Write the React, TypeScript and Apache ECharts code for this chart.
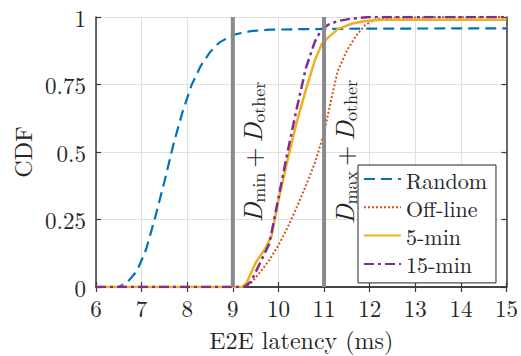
import React, { useEffect, useRef } from 'react';
import * as echarts from 'echarts';

const FONT = 'Latin Modern Roman';
const TXT = '#262626';

const randomX = [6, 6.5, 6.7, 6.9, 7.1, 7.3, 7.5, 7.7, 7.9, 8.1, 8.3, 8.5, 8.7, 9.0, 9.4, 9.8, 10.5, 12, 15];
const randomY = [0, 0, 0.02, 0.06, 0.14, 0.26, 0.39, 0.53, 0.65, 0.75, 0.82, 0.87, 0.905, 0.934, 0.948, 0.953, 0.955, 0.957, 0.958];

const offlineX = [6, 9.25, 9.4, 9.6, 9.8, 10.0, 10.2, 10.4, 10.6, 10.8, 11.0, 11.15, 11.3, 11.5, 11.7, 11.9, 12.1, 12.5, 15];
const offlineY = [0, 0, 0.015, 0.055, 0.1, 0.155, 0.22, 0.295, 0.375, 0.46, 0.57, 0.69, 0.8, 0.875, 0.93, 0.97, 0.99, 0.998, 1];

const min5X = [6, 9.2, 9.3, 9.5, 9.7, 9.85, 10.0, 10.2, 10.4, 10.6, 10.8, 10.95, 11.05, 11.3, 11.6, 11.9, 12.3, 15];
const min5Y = [0, 0, 0.015, 0.09, 0.14, 0.19, 0.32, 0.47, 0.61, 0.73, 0.84, 0.9, 0.918, 0.955, 0.975, 0.985, 0.99, 0.99];

const min15X = [6, 9.25, 9.4, 9.6, 9.8, 10.0, 10.2, 10.4, 10.6, 10.8, 10.95, 11.1, 11.3, 11.6, 12.0, 15];
const min15Y = [0, 0, 0.02, 0.09, 0.16, 0.33, 0.5, 0.66, 0.81, 0.91, 0.955, 0.972, 0.985, 0.994, 1, 1];

const seriesNames = ['Random', 'Off-line', '5-min', '15-min'];
const boundX = [9, 11];
const boundSubs = [['min', 'other'], ['max', 'other']];

const zip = (xs: number[], ys: number[]) => xs.map((x, i) => [x, ys[i]]);

export default function App() {
  const ref = useRef<HTMLDivElement>(null);
  useEffect(() => {
    if (!ref.current) return;
    const chart = echarts.init(ref.current, null, { renderer: 'svg' });
    const axisLine = { show: true, lineStyle: { color: '#3a3a3a', width: 1.5 } };
    const tick = { show: true, inside: true, length: 5, lineStyle: { color: '#3a3a3a', width: 1.2 } };
    const lineSeries = (name: string, xs: number[], ys: number[], color: string, type: any, width: number) => ({
      name,
      type: 'line',
      data: zip(xs, ys),
      showSymbol: false,
      symbol: 'none',
      lineStyle: { color, type, width, cap: 'butt' },
      itemStyle: { color },
      z: 3,
    });
    const option: any = {
      animation: false,
      backgroundColor: '#fff',
      grid: { left: 96, right: 13, top: 17, bottom: 66 },
      xAxis: [
        {
          type: 'value', min: 6, max: 15, interval: 1,
          name: 'E2E latency (ms)', nameLocation: 'middle', nameGap: 40,
          nameTextStyle: { fontFamily: FONT, fontSize: 24, color: TXT, lineHeight: 24 },
          axisLine, axisTick: tick,
          axisLabel: { fontFamily: FONT, fontSize: 23, color: TXT, margin: 11, lineHeight: 18 },
          splitLine: { show: true, lineStyle: { color: '#e0e0e0', width: 1 } },
        },
        {
          type: 'value', min: 6, max: 15, interval: 1, position: 'top',
          axisLine, axisTick: tick, axisLabel: { show: false }, splitLine: { show: false },
        },
      ],
      yAxis: [
        {
          type: 'value', min: 0, max: 1, interval: 0.25,
          name: 'CDF', nameLocation: 'middle', nameGap: 58,
          nameTextStyle: { fontFamily: FONT, fontSize: 24, color: TXT },
          axisLine, axisTick: tick,
          axisLabel: { fontFamily: FONT, fontSize: 23, color: TXT, margin: 10 },
          splitLine: { show: true, lineStyle: { color: '#e0e0e0', width: 1 } },
        },
        {
          type: 'value', min: 0, max: 1, interval: 0.25, position: 'right',
          axisLine, axisTick: tick, axisLabel: { show: false }, splitLine: { show: false },
        },
      ],
      legend: {
        data: seriesNames,
        orient: 'vertical',
        left: 358, top: 165,
        padding: [2, 9, 7, 5],
        itemGap: 4.3,
        itemWidth: 37, itemHeight: 14,
        itemStyle: { opacity: 0 },
        borderColor: '#262626', borderWidth: 1, backgroundColor: '#fff',
        textStyle: { fontFamily: FONT, fontSize: 22, color: TXT, lineHeight: 24 },
        z: 10,
      },
      series: [
        lineSeries(seriesNames[0], randomX, randomY, '#0072BD', [11, 6], 2.2),
        lineSeries(seriesNames[1], offlineX, offlineY, '#D95319', [2, 2], 2),
        lineSeries(seriesNames[2], min5X, min5Y, '#EDB120', 'solid', 2.5),
        lineSeries(seriesNames[3], min15X, min15Y, '#7E2F8E', [10, 4, 3, 4], 2.5),
        ...boundX.map((bx) => ({
          name: 'bound' + bx,
          type: 'line',
          data: [[bx, 0], [bx, 1]],
          showSymbol: false,
          symbol: 'none',
          lineStyle: { color: '#8a8a8a', width: 4 },
          z: 4,
          silent: true,
        })),
      ],
    };
    chart.setOption(option);
    const graphics = boundX.map((bx, i) => {
      const p = chart.convertToPixel({ xAxisIndex: 0, yAxisIndex: 0 }, [bx, 0.5]) as number[];
      const [s1, s2] = boundSubs[i];
      return {
        type: 'text',
        x: p[0] + 19,
        y: p[1],
        rotation: Math.PI / 2,
        z: 20,
        style: {
          text: `{d|D}{s|${s1}}{p|+}{d|D}{s|${s2}}`,
          align: 'center',
          verticalAlign: 'middle',
          fill: TXT,
          rich: {
            d: { fontFamily: FONT, fontStyle: 'italic', fontSize: 26, lineHeight: 30, fill: TXT },
            p: { fontFamily: FONT, fontSize: 26, lineHeight: 30, fill: TXT, padding: [0, 5, 0, 5] },
            s: { fontFamily: FONT, fontSize: 18, lineHeight: 14, verticalAlign: 'bottom', fill: TXT },
          },
        },
      };
    });
    chart.setOption({ graphic: graphics });
    return () => chart.dispose();
  }, []);
  return (
    <div
      ref={ref}
      style={{ position: 'fixed', left: 0, top: 0, width: 521, height: 356, background: '#fff' }}
    />
  );
}
